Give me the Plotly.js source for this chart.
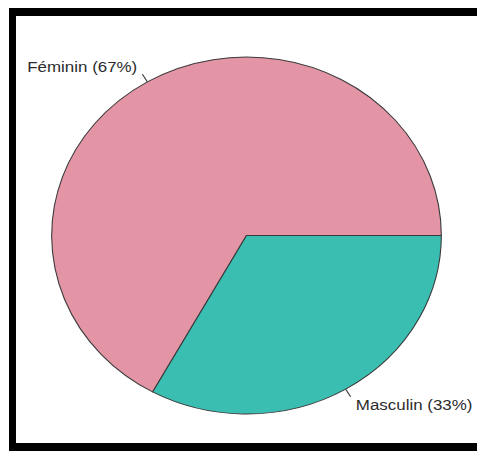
<!DOCTYPE html>
<html><head><meta charset="utf-8">
<script src="https://cdn.plot.ly/plotly-3.0.1.min.js"></script>
<style>
html,body{margin:0;padding:0;background:#fff;overflow:hidden;}
#wrap{width:477px;height:451px;overflow:hidden;position:relative;background:#fff;}
#chart{position:absolute;left:0;top:0;transform-origin:0 0;}
.bar{position:absolute;background:#000;pointer-events:none;}
#barTop{left:9px;top:8px;width:468px;height:8px;}
#barLeft{left:9px;top:8px;width:7px;height:443px;}
#barBottom{left:9px;top:443px;width:468px;height:8px;}
</style></head><body>
<div id="wrap"><div id="chart"></div>
<div class="bar" id="barTop"></div><div class="bar" id="barLeft"></div><div class="bar" id="barBottom"></div></div>
<script>
// ---- data ----
const categories = ['Féminin', 'Masculin'];
const values = [67, 33];

// ---- style / layout constants ----
const sliceColors = ['#E495A5', '#39BEB1'];
const W = 437, H = 451;
const SX = 477 / W;            // the reference picture is stretched horizontally
const CX = 246.5 / SX, CY = 235.5, R = 178.5;
const FONT = {family: 'Liberation Sans, Arial, sans-serif', size: 15.5, color: '#2b2b2b'};

const total = values.reduce((a, b) => a + b, 0);
const labels = categories.map((c, i) => c + ' (' + Math.round(values[i] / total * 100) + '%)');

function pt(angle, f) {
  return [CX + f * R * Math.cos(angle), CY - f * R * Math.sin(angle)];
}
const px = x => x / W, py = y => 1 - y / H;

const shapes = [];
const annotations = [];
let cum = 0;
values.forEach((v, i) => {
  const mid = (cum + v / 2) / total * 2 * Math.PI;   // counterclockwise from 3 o'clock
  cum += v;
  const a = pt(mid, 1.0), b = pt(mid, 1.05), t = pt(mid, 1.1);
  shapes.push({type: 'line', xref: 'paper', yref: 'paper',
    x0: px(a[0]), y0: py(a[1]), x1: px(b[0]), y1: py(b[1]),
    line: {color: '#333', width: 1}});
  annotations.push({xref: 'paper', yref: 'paper', x: px(t[0]), y: py(t[1]),
    text: labels[i], showarrow: false,
    xanchor: Math.cos(mid) > 0 ? 'left' : 'right', yanchor: 'middle',
    borderpad: 0, borderwidth: 0, font: FONT});
});

const trace = {
  type: 'pie',
  labels: categories,
  values: values,
  sort: false,
  direction: 'counterclockwise',
  // first slice starts at 3 o'clock and runs counterclockwise
  rotation: 90 - 360 * values[0] / total,
  textinfo: 'none',
  hoverinfo: 'none',
  marker: {colors: sliceColors, line: {color: '#3a3a3a', width: 1}},
  domain: {x: [(CX - R) / W, (CX + R) / W], y: [(H - CY - R) / H, (H - CY + R) / H]}
};

const layout = {
  width: W, height: H,
  margin: {l: 0, r: 0, t: 0, b: 0, pad: 0},
  paper_bgcolor: '#fff', plot_bgcolor: '#fff',
  showlegend: false,
  shapes: shapes,
  annotations: annotations
};

const el = document.getElementById('chart');
el.style.transform = 'scaleX(' + SX + ')';
Plotly.newPlot(el, [trace], layout, {staticPlot: true, displayModeBar: false});
</script>
</body></html>
